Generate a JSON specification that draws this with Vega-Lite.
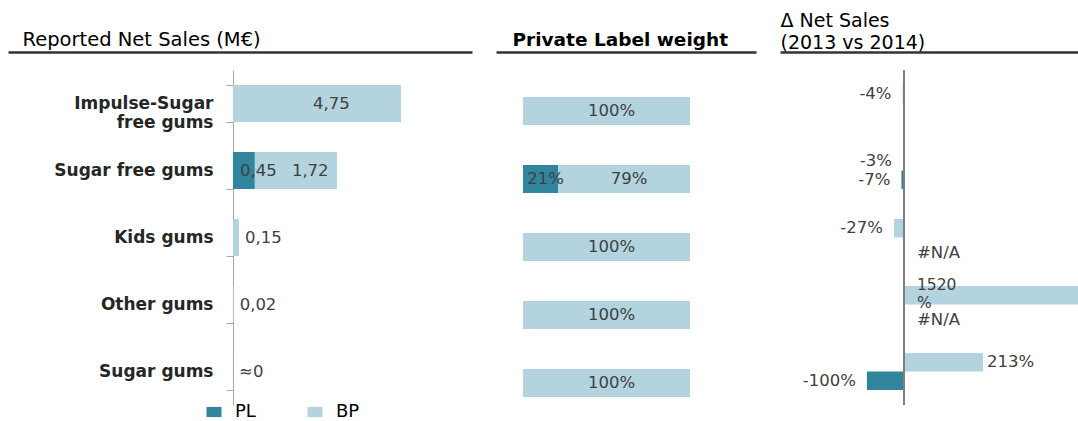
{
  "$schema": "https://vega.github.io/schema/vega-lite/v6.json",
  "padding": {"left": 8, "top": 11, "right": 0, "bottom": 0},
  "background": "white",
  "config": {
    "view": {"stroke": null},
    "font": "DejaVu Sans",
    "axis": {"labelFont": "DejaVu Sans", "titleFont": "DejaVu Sans"},
    "legend": {"labelFont": "DejaVu Sans"}
  },
  "datasets": {
    "sales": [
      {"cat": "Impulse-Sugar free gums", "series": "BP", "v": 4.75, "lbl": "4,75"},
      {"cat": "Sugar free gums", "series": "PL", "v": 0.62, "lbl": "0,45"},
      {"cat": "Sugar free gums", "series": "BP", "v": 2.32, "lbl": "1,72"},
      {"cat": "Kids gums", "series": "BP", "v": 0.17, "lbl": "0,15"},
      {"cat": "Other gums", "series": "BP", "v": 0.02, "lbl": "0,02"},
      {"cat": "Sugar gums", "series": "BP", "v": 0.005, "lbl": "≈0"}
    ],
    "weight": [
      {"cat": "Impulse-Sugar free gums", "series": "BP", "v": 100, "lbl": "100%"},
      {"cat": "Sugar free gums", "series": "PL", "v": 21, "lbl": "21%"},
      {"cat": "Sugar free gums", "series": "BP", "v": 79, "lbl": "79%"},
      {"cat": "Kids gums", "series": "BP", "v": 100, "lbl": "100%"},
      {"cat": "Other gums", "series": "BP", "v": 100, "lbl": "100%"},
      {"cat": "Sugar gums", "series": "BP", "v": 100, "lbl": "100%"}
    ],
    "delta": [
      {"cat": "Impulse-Sugar free gums", "series": "BP", "v": -4, "lbl": "-4%"},
      {"cat": "Sugar free gums", "series": "BP", "v": -3, "lbl": "-3%"},
      {"cat": "Sugar free gums", "series": "PL", "v": -7, "lbl": "-7%"},
      {"cat": "Kids gums", "series": "BP", "v": -27, "lbl": "-27%"},
      {"cat": "Kids gums", "series": "PL", "v": null, "lbl": "#N/A"},
      {"cat": "Other gums", "series": "BP", "v": 1520, "lbl": "1520\n%"},
      {"cat": "Other gums", "series": "PL", "v": null, "lbl": "#N/A"},
      {"cat": "Sugar gums", "series": "BP", "v": 213, "lbl": "213%"},
      {"cat": "Sugar gums", "series": "PL", "v": -100, "lbl": "-100%"}
    ]
  },
  "spacing": 24,
  "bounds": "flush",
  "resolve": {"scale": {"color": "independent"}, "legend": {"color": "independent"}},
  "hconcat": [
    {
      "width": 464,
      "height": 335,
      "data": {"name": "sales"},
      "transform": [
        {"calculate": "datum.series == 'PL' ? 0 : 1", "as": "o"},
        {"stack": "v", "groupby": ["cat"], "sort": [{"field": "o", "order": "ascending"}], "as": ["v0", "v1"]},
        {"calculate": "(datum.v0 + datum.v1) / 2", "as": "mid"}
      ],
      "encoding": {
        "y": {
          "field": "cat", "type": "nominal",
          "sort": ["Impulse-Sugar free gums", "Sugar free gums", "Kids gums", "Other gums", "Sugar gums"],
          "scale": {"paddingInner": 0.448, "paddingOuter": 0.224},
          "axis": {
            "title": null, "offset": -225, "domainColor": "#A6A6A6", "tickColor": "#A6A6A6",
            "tickSize": 7, "tickBand": "extent", "labelPadding": 13, "labelFontSize": 17,
            "labelFontWeight": "bold", "labelColor": "#262626", "labelLimit": 0, "labelLineHeight": 19,
            "labelExpr": "datum.label == 'Impulse-Sugar free gums' ? ['Impulse-Sugar', 'free gums'] : datum.label"
          }
        }
      },
      "layer": [
        {
          "mark": {"type": "bar"},
          "encoding": {
            "x": {
              "field": "v0", "type": "quantitative",
              "scale": {"domain": [-6.36, 6.76], "nice": false, "zero": false},
              "axis": {
                "orient": "top", "offset": 18, "domainColor": "#333333", "domainWidth": 2.5,
                "ticks": false, "labels": false, "grid": false,
                "title": "Reported Net Sales (M€)", "titleX": 14, "titleAlign": "left",
                "titleFontSize": 19.5, "titleFontWeight": "normal", "titlePadding": 3, "titleColor": "#000000"
              }
            },
            "x2": {"field": "v1"},
            "color": {
              "field": "series", "type": "nominal",
              "scale": {"domain": ["PL", "BP"], "range": ["#31859C", "#B3D3DE"]},
              "legend": {
                "orient": "none", "legendX": 197, "legendY": 333, "direction": "horizontal",
                "title": null, "symbolType": "M-1,-0.68H1V0.68H-1Z", "symbolSize": 225,
                "symbolStrokeWidth": 0, "labelFontSize": 18, "labelOffset": 12,
                "columnPadding": 50, "labelColor": "#000000"
              }
            }
          }
        },
        {
          "transform": [{"filter": "datum.v >= 0.3"}],
          "mark": {"type": "text", "align": "left", "dx": -4, "fontSize": 16.5, "color": "#404040"},
          "encoding": {
            "x": {"field": "mid", "type": "quantitative"},
            "text": {"field": "lbl"}
          }
        },
        {
          "transform": [{"filter": "datum.v < 0.3"}],
          "mark": {"type": "text", "align": "left", "dx": 6, "fontSize": 16.5, "color": "#404040"},
          "encoding": {
            "x": {"field": "v1", "type": "quantitative"},
            "text": {"field": "lbl"}
          }
        }
      ]
    },
    {
      "width": 260,
      "height": 335,
      "data": {"name": "weight"},
      "transform": [
        {"calculate": "datum.series == 'PL' ? 0 : 1", "as": "o"},
        {"stack": "v", "groupby": ["cat"], "sort": [{"field": "o", "order": "ascending"}], "as": ["v0", "v1"]},
        {"calculate": "(datum.v0 + datum.v1) / 2", "as": "mid"}
      ],
      "encoding": {
        "y": {
          "field": "cat", "type": "nominal",
          "sort": ["Impulse-Sugar free gums", "Sugar free gums", "Kids gums", "Other gums", "Sugar gums"],
          "scale": {"paddingInner": 0.588, "paddingOuter": 0.257, "align": 0.77},
          "axis": null
        }
      },
      "layer": [
        {
          "mark": {"type": "bar"},
          "encoding": {
            "x": {
              "field": "v0", "type": "quantitative",
              "scale": {"domain": [-16.17, 139.5], "nice": false, "zero": false},
              "axis": {
                "orient": "top", "offset": 18, "domainColor": "#333333", "domainWidth": 2.5,
                "ticks": false, "labels": false, "grid": false,
                "title": "Private Label weight", "titleX": 16, "titleAlign": "left",
                "titleFontSize": 18.5, "titleFontWeight": "bold", "titlePadding": 3, "titleColor": "#000000"
              }
            },
            "x2": {"field": "v1"},
            "color": {
              "field": "series", "type": "nominal",
              "scale": {"domain": ["PL", "BP"], "range": ["#31859C", "#B3D3DE"]},
              "legend": null
            }
          }
        },
        {
          "mark": {"type": "text", "align": "center", "dx": 5, "fontSize": 16.5, "color": "#404040"},
          "encoding": {
            "x": {"field": "mid", "type": "quantitative"},
            "text": {"field": "lbl"}
          }
        }
      ]
    },
    {
      "width": 298,
      "height": 335,
      "data": {"name": "delta"},
      "encoding": {
        "y": {
          "field": "cat", "type": "nominal",
          "sort": ["Impulse-Sugar free gums", "Sugar free gums", "Kids gums", "Other gums", "Sugar gums"],
          "scale": {"paddingInner": 0.448, "paddingOuter": 0.224},
          "axis": null
        },
        "yOffset": {
          "field": "series", "type": "nominal",
          "scale": {"domain": ["BP", "PL"], "paddingInner": 0, "paddingOuter": 0}
        }
      },
      "layer": [
        {
          "mark": {"type": "bar"},
          "encoding": {
            "x": {
              "field": "v", "type": "quantitative",
              "scale": {"domain": [-334.3, 469.1], "nice": false, "zero": false, "clamp": true},
              "axis": {
                "orient": "top", "offset": 18, "domainColor": "#333333", "domainWidth": 2.5,
                "ticks": false, "labels": false, "grid": false,
                "title": ["Δ Net Sales", "(2013 vs 2014)"], "titleX": 0, "titleAlign": "left",
                "titleFontSize": 19, "titleFontWeight": "normal", "titlePadding": 0,
                "titleLineHeight": 22, "titleColor": "#000000"
              }
            },
            "x2": {"datum": 0},
            "color": {
              "field": "series", "type": "nominal",
              "scale": {"domain": ["PL", "BP"], "range": ["#31859C", "#B3D3DE"]},
              "legend": null
            }
          }
        },
        {
          "mark": {"type": "rule", "color": "#7F7F7F", "strokeWidth": 1.3},
          "encoding": {"x": {"datum": 0}, "y": null, "yOffset": null}
        },
        {
          "transform": [{"filter": "datum.v != null && datum.v < 0"}],
          "mark": {"type": "text", "align": "right", "dx": -11, "fontSize": 16.5, "color": "#404040"},
          "encoding": {
            "x": {"field": "v", "type": "quantitative"},
            "text": {"field": "lbl"}
          }
        },
        {
          "transform": [{"filter": "datum.v != null && datum.v > 0 && datum.v < 1000"}],
          "mark": {"type": "text", "align": "left", "dx": 4, "fontSize": 16.5, "color": "#404040"},
          "encoding": {
            "x": {"field": "v", "type": "quantitative"},
            "text": {"field": "lbl"}
          }
        },
        {
          "transform": [{"filter": "datum.v >= 1000"}],
          "mark": {"type": "text", "align": "left", "dx": 13, "dy": -10, "fontSize": 15.5, "color": "#404040", "lineBreak": "\n", "lineHeight": 17.5},
          "encoding": {
            "x": {"datum": 0},
            "text": {"field": "lbl"}
          }
        },
        {
          "transform": [{"filter": "datum.v == null"}],
          "mark": {"type": "text", "align": "left", "dx": 13, "dy": 6, "fontSize": 16.5, "color": "#404040"},
          "encoding": {
            "x": {"datum": 0},
            "text": {"field": "lbl"}
          }
        }
      ]
    }
  ]
}
